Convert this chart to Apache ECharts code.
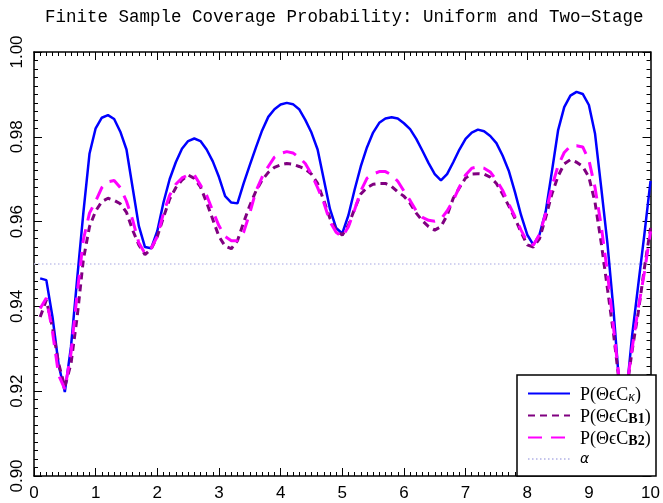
<!DOCTYPE html>
<html>
<head>
<meta charset="utf-8">
<script src="https://cdn.jsdelivr.net/npm/echarts@6/dist/echarts.min.js"></script>
<style>html,body{margin:0;padding:0;background:#fff;}#c{width:663px;height:503px;}</style>
</head>
<body>
<div id="c"></div>
<script>
var titleText = 'Finite Sample Coverage Probability: Uniform and Two\u2212Stage';
var xs = [0.1,0.2,0.3,0.4,0.5,0.6,0.7,0.8,0.9,1.0,
          1.1,1.2,1.3,1.4,1.5,1.6,1.7,1.8,1.9,2.0,
          2.1,2.2,2.3,2.4,2.5,2.6,2.7,2.8,2.9,3.0,
          3.1,3.2,3.3,3.4,3.5,3.6,3.7,3.8,3.9,4.0,
          4.1,4.2,4.3,4.4,4.5,4.6,4.7,4.8,4.9,5.0,
          5.1,5.2,5.3,5.4,5.5,5.6,5.7,5.8,5.9,6.0,
          6.1,6.2,6.3,6.4,6.5,6.6,6.7,6.8,6.9,7.0,
          7.1,7.2,7.3,7.4,7.5,7.6,7.7,7.8,7.9,8.0,
          8.1,8.2,8.3,8.4,8.5,8.6,8.7,8.8,8.9,9.0,
          9.1,9.2,9.3,9.4,9.5,9.6,9.7,9.8,9.9,10.0];
var covKappa = [0.9466,0.9462,0.9375,0.9262,0.9198,0.9305,0.9465,0.9620,0.9760,0.9820,
                0.9845,0.9851,0.9842,0.9812,0.9770,0.9680,0.9590,0.9540,0.9537,0.9578,
                0.9645,0.9700,0.9740,0.9772,0.9790,0.9796,0.9790,0.9770,0.9742,0.9705,
                0.9660,0.9645,0.9643,0.9690,0.9733,0.9775,0.9815,0.9847,0.9865,0.9876,
                0.9880,0.9877,0.9865,0.9840,0.9810,0.9770,0.9700,0.9630,0.9585,0.9572,
                0.9615,0.9675,0.9730,0.9775,0.9810,0.9833,0.9843,0.9846,0.9843,0.9832,
                0.9818,0.9795,0.9767,0.9738,0.9712,0.9697,0.9712,0.9740,0.9770,0.9795,
                0.9810,0.9817,0.9813,0.9802,0.9785,0.9756,0.9720,0.9670,0.9615,0.9569,
                0.9545,0.9570,0.9624,0.9718,0.9815,0.9870,0.9897,0.9906,0.9901,0.9875,
                0.9807,0.9680,0.9550,0.9390,0.9200,0.9180,0.9330,0.9450,0.9570,0.9696];
var covB1 = [0.9375,0.9415,0.9350,0.9265,0.9210,0.9265,0.9375,0.9510,0.9588,0.9625,
             0.9647,0.9655,0.9650,0.9642,0.9622,0.9580,0.9545,0.9522,0.9535,0.9565,
             0.9610,0.9653,0.9680,0.9698,0.9710,0.9702,0.9682,0.9645,0.9605,0.9565,
             0.9542,0.9536,0.9555,0.9598,0.9638,0.9672,0.9698,0.9716,0.9728,0.9734,
             0.9737,0.9735,0.9730,0.9724,0.9712,0.9690,0.9650,0.9608,0.9580,0.9568,
             0.9592,0.9630,0.9665,0.9680,0.9688,0.9690,0.9690,0.9683,0.9670,0.9660,
             0.9643,0.9620,0.9602,0.9588,0.9580,0.9588,0.9615,0.9655,0.9680,0.9703,
             0.9712,0.9713,0.9712,0.9705,0.9690,0.9665,0.9637,0.9608,0.9575,0.9545,
             0.9540,0.9560,0.9610,0.9665,0.9707,0.9736,0.9746,0.9740,0.9730,0.9705,
             0.9645,0.9550,0.9443,0.9335,0.9210,0.9190,0.9295,0.9385,0.9490,0.9585];
var covB2 = [0.9395,0.9420,0.9340,0.9238,0.9205,0.9290,0.9430,0.9557,0.9620,0.9648,
             0.9680,0.9694,0.9697,0.9680,0.9648,0.9604,0.9550,0.9525,0.9537,0.9565,
             0.9620,0.9662,0.9688,0.9703,0.9710,0.9710,0.9686,0.9662,0.9625,0.9590,
             0.9565,0.9555,0.9555,0.9575,0.9620,0.9672,0.9705,0.9730,0.9752,0.9761,
             0.9765,0.9762,0.9751,0.9737,0.9712,0.9680,0.9645,0.9600,0.9575,0.9564,
             0.9588,0.9628,0.9672,0.9702,0.9712,0.9718,0.9718,0.9710,0.9695,0.9672,
             0.9650,0.9625,0.9610,0.9603,0.9601,0.9606,0.9625,0.9650,0.9682,0.9710,
             0.9726,0.9729,0.9726,0.9717,0.9698,0.9674,0.9642,0.9612,0.9580,0.9552,
             0.9545,0.9570,0.9620,0.9682,0.9732,0.9763,0.9778,0.9779,0.9776,0.9745,
             0.9680,0.9590,0.9480,0.9350,0.9215,0.9195,0.9300,0.9395,0.9480,0.9577];
var alphaX = [0, 10];
var alphaY = [0.95, 0.95];
var seriesNames = ['kappa', 'B1', 'B2', 'alpha'];
var legendLabels = {
  kappa: '{p0|P(\u0398\u03f5C}{k|\u03ba}{p|)}',
  B1: '{p0|P(\u0398\u03f5C}{b|B1}{p|)}',
  B2: '{p0|P(\u0398\u03f5C}{b|B2}{p|)}',
  alpha: '{a|\u03b1}'
};

function pairs(xv, yv) { return xv.map(function (x, i) { return [x, yv[i]]; }); }

var chart = echarts.init(document.getElementById('c'), null, {renderer: 'canvas'});
var tickFont = 'Liberation Sans';
function xAx(pos, showLabel) {
  return {
    type: 'value', min: 0, max: 10, interval: 1, position: pos,
    axisLine: {show: true, onZero: false, lineStyle: {color: '#000', width: 1.5}},
    axisTick: {show: true, inside: true, length: 8, lineStyle: {color: '#000', width: 1}},
    minorTick: {show: true, splitNumber: 10, length: 4, lineStyle: {color: '#000', width: 1}},
    splitLine: {show: false}, minorSplitLine: {show: false},
    axisLabel: {show: showLabel, color: '#000', fontSize: 17, fontFamily: tickFont, margin: 9}
  };
}
function yAx(pos, showLabel) {
  return {
    type: 'value', min: 0.90, max: 1.00, interval: 0.02, position: pos,
    axisLine: {show: true, onZero: false, lineStyle: {color: '#000', width: 1.5}},
    axisTick: {show: true, inside: true, length: 8, lineStyle: {color: '#000', width: 1}},
    minorTick: {show: true, splitNumber: 10, length: 4, lineStyle: {color: '#000', width: 1}},
    splitLine: {show: false}, minorSplitLine: {show: false},
    axisLabel: {show: showLabel, rotate: 90, color: '#000', fontSize: 17, fontFamily: tickFont, margin: 8,
      formatter: function (v) { return v.toFixed(2); }}
  };
}

var option = {
  animation: false,
  backgroundColor: '#fff',
  title: {
    text: titleText, left: 40, top: 3,
    textStyle: {fontFamily: 'Liberation Mono', fontWeight: 'normal', fontSize: 17.5, color: '#000'}
  },
  grid: {left: 34, right: 7, top: 52, bottom: 27, containLabel: false},
  xAxis: [xAx('bottom', true), xAx('top', false)],
  yAxis: [yAx('left', true), yAx('right', false)],
  legend: {
    data: seriesNames, orient: 'vertical', left: 527, top: 386, padding: 0,
    itemWidth: 42, itemHeight: 14, itemGap: 4, z: 20,
    itemStyle: {opacity: 0},
    formatter: function (name) { return legendLabels[name]; },
    textStyle: {
      color: '#000',
      rich: {
        p0: {fontFamily: 'Liberation Serif', fontSize: 18, lineHeight: 21, color: '#000', verticalAlign: 'bottom', padding: [0, 0, 0, 5]},
        p: {fontFamily: 'Liberation Serif', fontSize: 18, lineHeight: 21, color: '#000', verticalAlign: 'bottom'},
        k: {fontFamily: 'Liberation Serif', fontStyle: 'italic', fontSize: 14, lineHeight: 6, color: '#000', verticalAlign: 'bottom'},
        b: {fontFamily: 'Liberation Serif', fontWeight: 'bold', fontSize: 14, lineHeight: 6, color: '#000', verticalAlign: 'bottom'},
        a: {fontFamily: 'DejaVu Sans', fontStyle: 'italic', fontSize: 14, lineHeight: 21, color: '#000', padding: [0, 0, 0, 5]}
      }
    }
  },
  graphic: [{
    type: 'rect', z: 10, silent: true,
    shape: {x: 517, y: 375, width: 139, height: 101},
    style: {fill: '#fff', stroke: '#000', lineWidth: 1.5}
  }],
  series: [
    {name: 'alpha', type: 'line', symbol: 'none', data: pairs(alphaX, alphaY), z: 1,
     lineStyle: {color: '#c4c4ec', width: 1.5, type: [1.5, 2.5]}},
    {name: 'kappa', type: 'line', symbol: 'none', data: pairs(xs, covKappa), z: 2,
     lineStyle: {color: '#0000ff', width: 2.5}},
    {name: 'B1', type: 'line', symbol: 'none', data: pairs(xs, covB1), z: 3,
     lineStyle: {color: '#800080', width: 3, type: [7, 5]}},
    {name: 'B2', type: 'line', symbol: 'none', data: pairs(xs, covB2), z: 4,
     lineStyle: {color: '#ff00ff', width: 3, type: [14, 9]}}
  ]
};
chart.setOption(option);
</script>
</body>
</html>
